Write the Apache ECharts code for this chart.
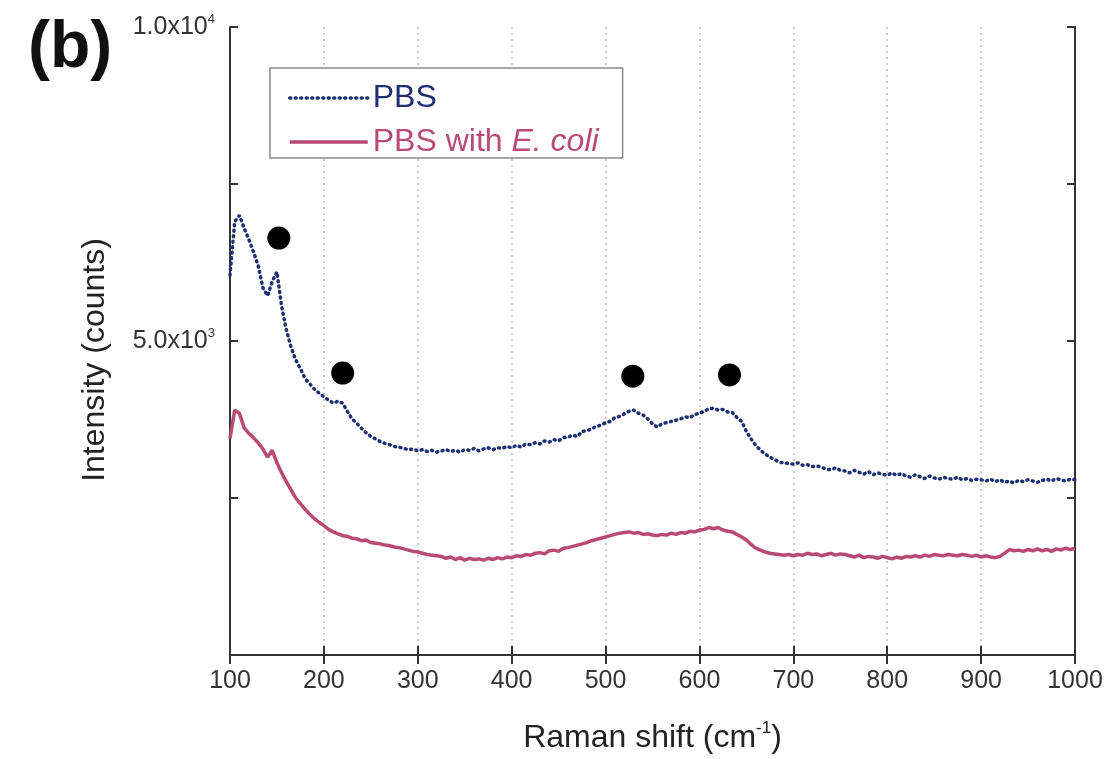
<!DOCTYPE html>
<html>
<head>
<meta charset="utf-8">
<script src="https://cdn.jsdelivr.net/npm/echarts@6/dist/echarts.min.js"></script>
<style>
html,body{margin:0;padding:0;background:#fff;}
#chart{width:1120px;height:759px;}
</style>
</head>
<body>
<div id="chart"></div>
<script>
// Raman shift (cm^-1), every 5 from 100 to 1000
const ramanShift = [];
for (let v = 100; v <= 1000; v += 5) ramanShift.push(v);

const pbsValues = [
6050,6900,7000,6800,6620,6420,6200,5850,5720,5950,6100,5550,5180,4900,4700,4560,4400,4320,4230,4170,
4110,4060,4010,4040,4010,3880,3760,3690,3610,3540,3480,3440,3400,3370,3350,3320,3310,3290,3270,3280,
3250,3270,3240,3260,3230,3250,3270,3240,3260,3230,3270,3260,3290,3250,3280,3300,3270,3300,3290,3320,
3300,3340,3310,3360,3350,3380,3360,3410,3390,3430,3410,3460,3470,3500,3480,3560,3570,3600,3640,3660,
3700,3720,3780,3800,3840,3880,3900,3850,3820,3760,3680,3630,3680,3700,3720,3740,3760,3790,3780,3830,
3850,3880,3920,3930,3900,3910,3870,3860,3780,3720,3560,3440,3340,3260,3200,3150,3110,3070,3060,3050,
3040,3060,3020,3030,3000,3010,2990,2960,2950,2980,2940,2930,2900,2940,2910,2880,2920,2870,2900,2880,
2860,2900,2860,2890,2850,2830,2870,2840,2810,2850,2820,2800,2830,2810,2800,2830,2790,2810,2780,2800,
2790,2770,2800,2760,2790,2750,2770,2740,2780,2760,2790,2770,2750,2780,2800,2770,2810,2790,2770,2800,
2790
];

const ecoliValues = [
3450,3900,3850,3620,3530,3460,3380,3280,3150,3260,3060,2900,2760,2630,2500,2410,2320,2240,2170,2110,
2060,2000,1960,1930,1900,1890,1860,1850,1820,1830,1790,1780,1770,1750,1740,1720,1710,1690,1670,1650,
1640,1620,1600,1590,1580,1570,1540,1560,1520,1550,1510,1540,1520,1530,1510,1540,1520,1550,1530,1560,
1550,1580,1570,1600,1590,1620,1630,1610,1660,1670,1650,1700,1710,1730,1750,1770,1790,1820,1840,1860,
1880,1900,1920,1940,1950,1960,1940,1950,1920,1930,1910,1900,1920,1910,1940,1920,1950,1940,1970,1960,
1990,2000,2030,2010,2030,1990,1970,1960,1920,1880,1830,1760,1700,1670,1640,1620,1610,1600,1590,1600,
1580,1600,1590,1620,1600,1610,1580,1600,1620,1590,1610,1600,1580,1560,1590,1550,1570,1560,1540,1570,
1550,1530,1560,1540,1570,1560,1580,1560,1590,1570,1600,1590,1580,1600,1590,1580,1600,1590,1570,1590,
1560,1580,1560,1550,1570,1620,1680,1660,1670,1650,1680,1660,1690,1660,1680,1650,1690,1670,1700,1680,
1700
];

// peak markers (black dots)
const markerX = [152, 220, 529, 632];
const markerY = [6640, 4490, 4440, 4460];

const xTicks = [100,200,300,400,500,600,700,800,900,1000];
const yLabels = {5000: ['5.0x10','3'], 10000: ['1.0x10','4']};

const seriesNames = ['PBS', 'PBS with E. coli'];

const NAVY = '#1e2f72';
const PINK = '#b84a73';
const FONT = 'Liberation Sans, Arial, sans-serif';

const pbsData = ramanShift.map((x, i) => [x, pbsValues[i]]);
const ecoliData = ramanShift.map((x, i) => [x, ecoliValues[i]]);
const markerData = markerX.map((x, i) => [x, markerY[i]]);

const chart = echarts.init(document.getElementById('chart'));

const axisLineStyle = {color: '#333', width: 2};

const option = {
  backgroundColor: '#fff',
  animation: false,
  textStyle: {fontFamily: FONT},
  grid: {left: 230, right: 45, top: 27, bottom: 104, containLabel: false},
  legend: {
    orient: 'vertical',
    left: 270, top: 68,
    padding: [14, 24, 0, 18],
    itemGap: 12,
    itemWidth: 78, itemHeight: 14,
    borderColor: '#888', borderWidth: 1.5,
    backgroundColor: '#fff',
    itemStyle: {opacity: 0},
    data: [
      {name: seriesNames[0],
       lineStyle: {color: NAVY, width: 3.5, type: [1, 4.5], cap: 'round'},
       textStyle: {color: NAVY, fontSize: 32, fontFamily: FONT}},
      {name: seriesNames[1],
       lineStyle: {color: PINK, width: 3.5},
       textStyle: {color: PINK, fontSize: 32, fontFamily: FONT,
        rich: {n: {color: PINK, fontSize: 32, fontFamily: FONT},
               i: {color: PINK, fontSize: 32, fontFamily: FONT, fontStyle: 'italic'}}}}
    ],
    formatter: function (name) {
      if (name === seriesNames[1]) return '{n|PBS with }{i|E. coli}';
      return name;
    }
  },
  xAxis: [{
    type: 'value', min: 100, max: 1000, interval: 100, position: 'bottom',
    axisLine: {show: true, lineStyle: axisLineStyle},
    axisTick: {show: true, inside: true, length: 9, lineStyle: {color: '#333', width: 2}},
    axisLabel: {color: '#333', fontSize: 25, margin: 14, fontFamily: FONT,
      formatter: v => xTicks.indexOf(v) >= 0 ? String(v) : ''},
    splitLine: {show: true, lineStyle: {color: '#bdbdbd', width: 1.5, type: [2, 4]}},
    name: '{a|Raman shift (cm}{s|-1}{a|)}',
    nameLocation: 'middle', nameGap: 65,
    nameTextStyle: {rich: {
      a: {fontSize: 32, color: '#222', fontFamily: FONT, lineHeight: 36},
      s: {fontSize: 17, color: '#222', fontFamily: FONT, verticalAlign: 'top', lineHeight: 36, padding: [0, 0, 15, 0]}
    }}
  }, {
    type: 'value', min: 100, max: 1000, interval: 100, position: 'top',
    axisLine: {show: true, lineStyle: axisLineStyle},
    axisTick: {show: true, inside: true, length: 9, lineStyle: {color: '#333', width: 2}},
    axisLabel: {show: false},
    splitLine: {show: false}
  }],
  yAxis: [{
    type: 'value', min: 0, max: 10000, interval: 2500, position: 'left',
    axisLine: {show: true, lineStyle: axisLineStyle},
    axisTick: {show: true, inside: true, length: 8, lineStyle: {color: '#333', width: 2}},
    splitLine: {show: false},
    axisLabel: {
      margin: 15, color: '#333', fontFamily: FONT,
      formatter: function (v) {
        const l = yLabels[v];
        return l ? '{a|' + l[0] + '}{s|' + l[1] + '}' : '';
      },
      rich: {
        a: {fontSize: 25, color: '#333', fontFamily: FONT, lineHeight: 28},
        s: {fontSize: 13, color: '#333', fontFamily: FONT, verticalAlign: 'top', lineHeight: 28, padding: [0, 0, 12, 0]}
      }
    }
  }, {
    type: 'value', min: 0, max: 10000, interval: 2500, position: 'right',
    axisLine: {show: true, lineStyle: axisLineStyle},
    axisTick: {show: true, inside: true, length: 8, lineStyle: {color: '#333', width: 2}},
    axisLabel: {show: false},
    splitLine: {show: false}
  }],
  graphic: [
    {type: 'text', left: 28, top: 16, z: 10,
     style: {text: '(b)', fontSize: 66, fontWeight: 'bold', fill: '#111', fontFamily: FONT}},
    {type: 'text', x: 95, y: 360, rotation: Math.PI / 2, z: 10,
     style: {text: 'Intensity (counts)', fontSize: 32, fill: '#222', fontFamily: FONT,
             align: 'center', verticalAlign: 'middle'}}
  ],
  series: [
    {
      name: seriesNames[0], type: 'line', data: pbsData,
      xAxisIndex: 0, yAxisIndex: 0,
      symbol: 'none', showSymbol: false, smooth: false,
      color: NAVY,
      lineStyle: {color: NAVY, width: 3.5, type: [1, 4.5], cap: 'round'},
      z: 3
    },
    {
      name: seriesNames[1], type: 'line', data: ecoliData,
      xAxisIndex: 0, yAxisIndex: 0,
      symbol: 'none', showSymbol: false, smooth: false,
      color: PINK,
      lineStyle: {color: PINK, width: 3.5},
      z: 3
    },
    {
      name: 'markers', type: 'scatter', data: markerData,
      xAxisIndex: 0, yAxisIndex: 0,
      symbol: 'circle', symbolSize: 23,
      itemStyle: {color: '#000', opacity: 1},
      z: 5
    }
  ]
};

chart.setOption(option);
</script>
</body>
</html>
